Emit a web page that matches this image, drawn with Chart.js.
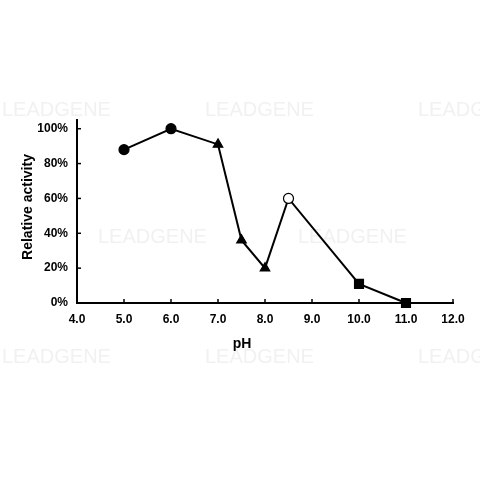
<!DOCTYPE html>
<html><head><meta charset="utf-8">
<script src="https://cdn.jsdelivr.net/npm/chart.js@4"></script>
<style>html,body{margin:0;padding:0;background:#fff}#w{width:480px;height:480px}</style>
</head><body><div id="w"><canvas id="c"></canvas></div>
<script>
const phValues = [5.0, 6.0, 7.0, 7.5, 8.0, 8.5, 10.0, 11.0];
const activity = [88, 100, 91, 36, 20, 60, 11, 0];
const yTickValues = [0, 20, 40, 60, 80, 100];
const markerStyles = ['circle','circle','triangle','triangle','triangle','circle','rect','rect'];
const markerFills = ['#000','#000','#000','#000','#000','#fff','#000','#000'];
const markerSizes = [5, 5, 5.5, 5.5, 5.5, 5, 6.3, 6.3];
const xTitle = 'pH';
const yTitle = 'Relative activity';
const watermark = 'LEADGENE';

const FAM = '"Liberation Sans", Arial, sans-serif';
const font = {family: FAM, weight: 'bold', size: 12};

const extras = {
  id: 'extras',
  beforeDraw(chart) {
    const ctx = chart.ctx;
    ctx.save();
    ctx.fillStyle = 'rgba(215,215,215,0.35)';
    ctx.font = '20px ' + FAM;
    ctx.textBaseline = 'middle';
    [[2,110],[205,110],[418,110],[98,237],[298,237],[2,357],[205,357],[418,357]].forEach(p => ctx.fillText(watermark, p[0], p[1]));
    ctx.restore();
  },
  afterDraw(chart) {
    const ctx = chart.ctx, x = chart.scales.x, y = chart.scales.y;
    ctx.save();
    ctx.strokeStyle = '#000'; ctx.lineWidth = 1.5;
    x.ticks.forEach(t => {
      const px = x.getPixelForValue(t.value);
      ctx.beginPath(); ctx.moveTo(px, y.bottom); ctx.lineTo(px, y.bottom - 4); ctx.stroke();
    });
    y.ticks.forEach(t => {
      const py = y.getPixelForValue(t.value);
      ctx.beginPath(); ctx.moveTo(x.left, py); ctx.lineTo(x.left + 4, py); ctx.stroke();
    });
    ctx.fillStyle = '#000';
    ctx.font = 'bold 14px ' + FAM;
    ctx.textAlign = 'center'; ctx.textBaseline = 'middle';
    ctx.fillText(xTitle, 242, 344);
    ctx.translate(28, 207); ctx.rotate(-Math.PI / 2);
    ctx.fillText(yTitle, 0, 0);
    ctx.restore();
  }
};

new Chart(document.getElementById('c'), {
  type: 'line',
  data: {
    datasets: [{
      data: phValues.map((v, i) => ({x: v, y: activity[i]})),
      borderColor: '#000',
      borderWidth: 2,
      pointStyle: markerStyles,
      pointBackgroundColor: markerFills,
      pointBorderColor: '#000',
      pointBorderWidth: 1.2,
      pointRadius: markerSizes,
      tension: 0,
      clip: false
    }]
  },
  options: {
    responsive: true, maintainAspectRatio: false, animation: false,
    layout: {padding: {left: 0, top: 120, right: 27, bottom: 127}},
    plugins: {legend: {display: false}, tooltip: {enabled: false}},
    scales: {
      x: {
        type: 'linear', min: 4, max: 12,
        ticks: {stepSize: 1, color: '#000', font: font, padding: 9, maxRotation: 0,
                callback: v => Number(v).toFixed(1)},
        grid: {display: false, drawTicks: false},
        border: {color: '#000', width: 2},
        afterFit(s) { s.height = 50; }
      },
      y: {
        min: 0, max: 105,
        afterBuildTicks(s) { s.ticks = yTickValues.map(v => ({value: v})); },
        ticks: {color: '#000', font: font, padding: 9,
                callback: v => v + '%'},
        grid: {display: false, drawTicks: false},
        border: {color: '#000', width: 2},
        afterFit(s) { s.width = 77; }
      }
    }
  },
  plugins: [extras]
});
</script>
</body></html>
